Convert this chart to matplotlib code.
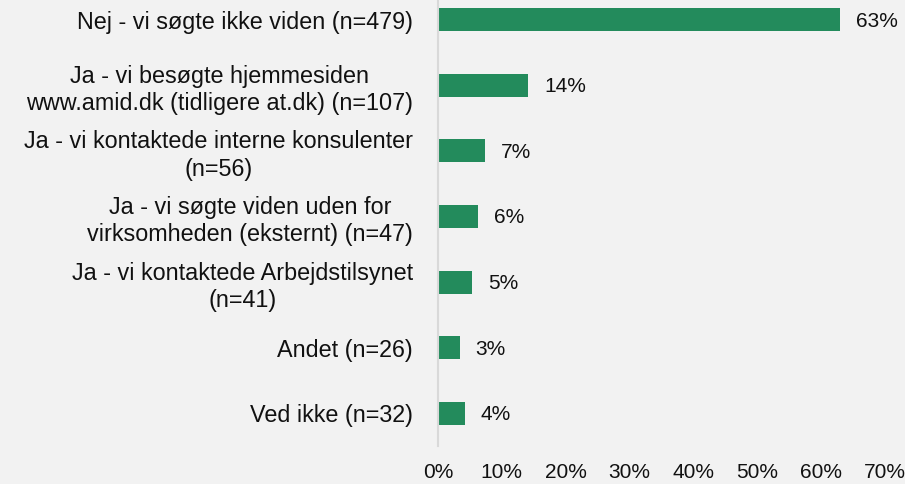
import matplotlib.pyplot as plt

plt.rcParams['font.family'] = ['Liberation Sans', 'DejaVu Sans']

# data
categories = [
    "Nej - vi søgte ikke viden (n=479)",
    "Ja - vi besøgte hjemmesiden\nwww.amid.dk (tidligere at.dk) (n=107)",
    "Ja - vi kontaktede interne konsulenter\n(n=56)",
    "Ja - vi søgte viden uden for\nvirksomheden (eksternt) (n=47)",
    "Ja - vi kontaktede Arbejdstilsynet\n(n=41)",
    "Andet (n=26)",
    "Ved ikke (n=32)",
]
values = [63.0, 14.1, 7.4, 6.2, 5.4, 3.4, 4.2]
value_labels = ["63%", "14%", "7%", "6%", "5%", "3%", "4%"]
xticks = [0, 10, 20, 30, 40, 50, 60, 70]

BG = '#F2F2F2'
BAR = '#238B5C'

fig = plt.figure(figsize=(9.05, 4.84), dpi=100, facecolor=BG)
ax = fig.add_axes([438/905, 38/484, (885-438)/905, (446+13)/484])
ax.set_facecolor(BG)

ypos = list(range(len(categories)))
ax.barh(ypos, values, height=0.35, color=BAR)
ax.set_ylim(len(categories) - 0.5, -0.5)
ax.set_xlim(0, 70)

for y, v, lab in zip(ypos, values, value_labels):
    ax.annotate(lab, (v, y), xytext=(11.5, -1), textcoords='offset points',
                va='center', ha='left', fontsize=15, color='#111111')

ax.set_yticks(ypos)
ax.set_yticklabels(categories, fontsize=16.8, color='#111111',
                   multialignment='center', linespacing=1.25)
ax.set_xticks(xticks)
ax.set_xticklabels([f"{t}%" for t in xticks], fontsize=15, color='#111111')
ax.tick_params(axis='both', length=0)
ax.tick_params(axis='y', pad=18)
ax.tick_params(axis='x', pad=12)

for s in ['top', 'right', 'bottom']:
    ax.spines[s].set_visible(False)
ax.spines['left'].set_color('#D9D9D9')
ax.spines['left'].set_linewidth(1.5)

fig.savefig('out.png', dpi=100, facecolor=BG)
